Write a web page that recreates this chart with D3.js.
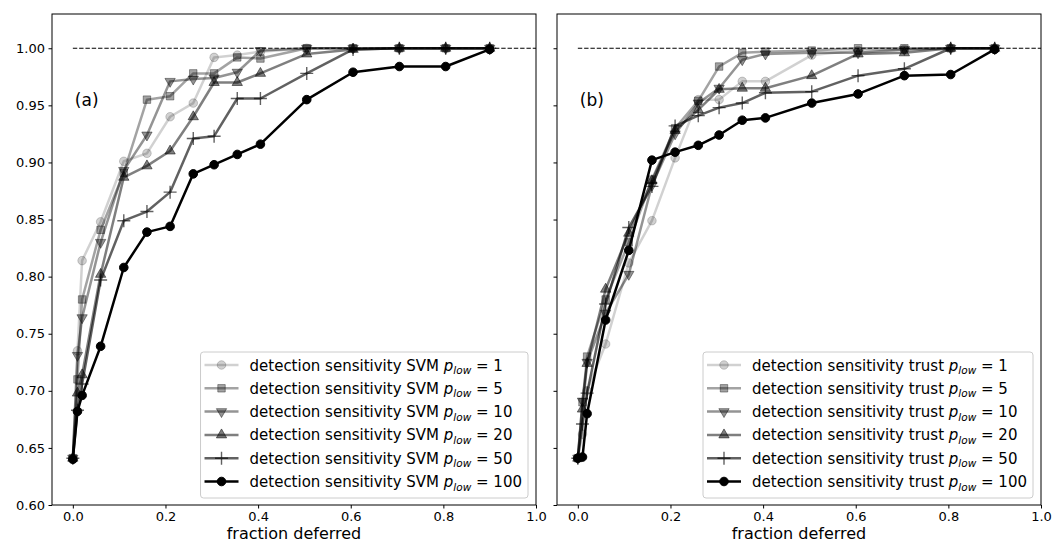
<!DOCTYPE html>
<html>
<head>
<meta charset="utf-8">
<script src="https://cdn.jsdelivr.net/npm/d3@7"></script>
<style>
  html, body { margin: 0; padding: 0; background: #fff; }
  svg { display: block; font-family: "DejaVu Sans", sans-serif; }
</style>
</head>
<body>
<svg id="chart" width="1063" height="543"></svg>
<script>
// Fraction of cases deferred (shared x positions for every curve)
const fractionDeferred = [0, 0.01, 0.02, 0.06, 0.11, 0.16, 0.21, 0.26, 0.305, 0.355, 0.405, 0.505, 0.605, 0.705, 0.805, 0.9];

// p_low settings, one curve each
const pLow = [1, 5, 10, 20, 50, 100];

// Detection sensitivity, SVM deferral
const svmP1   = [0.641, 0.735, 0.814, 0.848, 0.901, 0.908, 0.940, 0.952, 0.992, 0.994, 0.997, 1.000, 1.000, 1.000, 1.000, 1.000];
const svmP5   = [0.641, 0.710, 0.780, 0.841, 0.891, 0.955, 0.958, 0.978, 0.978, 0.992, 0.991, 1.000, 1.000, 1.000, 1.000, 1.000];
const svmP10  = [0.641, 0.731, 0.764, 0.830, 0.893, 0.924, 0.971, 0.973, 0.974, 0.979, 0.998, 1.000, 1.000, 1.000, 1.000, 1.000];
const svmP20  = [0.641, 0.698, 0.714, 0.802, 0.887, 0.897, 0.910, 0.940, 0.970, 0.970, 0.978, 0.995, 0.999, 1.000, 1.000, 1.000];
const svmP50  = [0.641, 0.683, 0.706, 0.797, 0.849, 0.857, 0.874, 0.921, 0.923, 0.956, 0.956, 0.978, 0.999, 1.000, 1.000, 1.000];
const svmP100 = [0.640, 0.682, 0.696, 0.739, 0.808, 0.839, 0.844, 0.890, 0.898, 0.907, 0.916, 0.955, 0.979, 0.984, 0.984, 0.999];

// Detection sensitivity, trust-score deferral
const trustP1   = [0.641, 0.662, 0.700, 0.741, 0.812, 0.849, 0.904, 0.955, 0.955, 0.971, 0.971, 0.994, 0.998, 0.999, 1.000, 1.000];
const trustP5   = [0.641, 0.690, 0.730, 0.780, 0.830, 0.885, 0.930, 0.954, 0.984, 0.996, 0.997, 0.998, 1.000, 1.000, 1.000, 1.000];
const trustP10  = [0.641, 0.691, 0.725, 0.768, 0.802, 0.880, 0.925, 0.952, 0.965, 0.990, 0.995, 0.996, 0.996, 0.999, 1.000, 1.000];
const trustP20  = [0.641, 0.684, 0.724, 0.789, 0.838, 0.884, 0.928, 0.946, 0.964, 0.965, 0.965, 0.976, 0.995, 0.996, 1.000, 1.000];
const trustP50  = [0.641, 0.671, 0.698, 0.776, 0.843, 0.879, 0.932, 0.941, 0.948, 0.952, 0.961, 0.962, 0.976, 0.982, 1.000, 1.000];
const trustP100 = [0.641, 0.642, 0.680, 0.762, 0.823, 0.902, 0.909, 0.915, 0.924, 0.937, 0.939, 0.952, 0.960, 0.976, 0.977, 0.999];

// Axis ticks
const xTicks = [0, 0.2, 0.4, 0.6, 0.8, 1.0];
const yTicks = [0.60, 0.65, 0.70, 0.75, 0.80, 0.85, 0.90, 0.95, 1.00];

// Per-curve look: marker shape and grey level (black with transparency)
const markerShapes = ["circle", "square", "triDown", "triUp", "plus", "circle"];
const curveAlpha = [0.18, 0.36, 0.42, 0.5, 0.62, 1.0];

const panels = [
  { tag: "(a)", method: "SVM",   series: [svmP1, svmP5, svmP10, svmP20, svmP50, svmP100],             left: 52,  right: 536, showYLabels: true },
  { tag: "(b)", method: "trust", series: [trustP1, trustP5, trustP10, trustP20, trustP50, trustP100], left: 557, right: 1041, showYLabels: false }
];

const svg = d3.select("#chart");
const plotTop = 14, plotBottom = 505;
const y = d3.scaleLinear().domain([0.6, 1.03]).range([plotBottom, plotTop]);

function markerPath(shape) {
  switch (shape) {
    case "circle":  return d3.symbol(d3.symbolCircle, 58)();
    case "square":  return d3.symbol(d3.symbolSquare, 56)();
    case "triUp":   return d3.symbol(d3.symbolTriangle, 46)();
    case "triDown": return d3.symbol(d3.symbolTriangle, 46)();
    case "plus":    return "M-6.5,0H6.5M0,-6.5V6.5";
  }
}

function drawMarker(g, shape, alpha, cx, cy) {
  const m = g.append("path")
    .attr("d", markerPath(shape))
    .attr("transform", `translate(${cx},${cy})` + (shape === "triDown" ? " rotate(180)" : ""));
  if (shape === "plus") {
    m.attr("fill", "none").attr("stroke", "#000").attr("stroke-width", 1.4).attr("stroke-opacity", alpha);
  } else {
    m.attr("fill", "#000").attr("fill-opacity", alpha)
     .attr("stroke", "#000").attr("stroke-opacity", alpha).attr("stroke-width", 1);
  }
}

panels.forEach(p => {
  const x = d3.scaleLinear().domain([-0.045, 1.0]).range([p.left, p.right]);
  const g = svg.append("g");

  // reference line at perfect sensitivity
  g.append("line")
    .attr("x1", x(0)).attr("x2", x(1.0))
    .attr("y1", y(1.0)).attr("y2", y(1.0))
    .attr("stroke", "#000").attr("stroke-width", 1.2)
    .attr("stroke-dasharray", "4.4,1.9");

  // curves
  const line = d3.line().x((d, i) => x(fractionDeferred[i])).y(d => y(d));
  p.series.forEach((vals, k) => {
    const cg = g.append("g");
    cg.append("path")
      .attr("d", line(vals))
      .attr("fill", "none")
      .attr("stroke", "#000")
      .attr("stroke-opacity", curveAlpha[k])
      .attr("stroke-width", 2.5)
      .attr("stroke-linejoin", "round");
    vals.forEach((v, i) => drawMarker(cg, markerShapes[k], curveAlpha[k], x(fractionDeferred[i]), y(v)));
  });

  // axes
  const xAxis = d3.axisBottom(x).tickValues(xTicks).tickFormat(d3.format(".1f")).tickSizeInner(3.5).tickSizeOuter(0).tickPadding(3.5);
  const yAxis = d3.axisLeft(y).tickValues(yTicks).tickFormat(p.showYLabels ? d3.format(".2f") : () => "").tickSizeInner(3.5).tickSizeOuter(0).tickPadding(3.5);

  const gx = g.append("g").attr("transform", `translate(0,${plotBottom})`).call(xAxis);
  const gy = g.append("g").attr("transform", `translate(${p.left},0)`).call(yAxis);
  [gx, gy].forEach(a => {
    a.select(".domain").remove();
    a.selectAll(".tick line").attr("stroke", "#000").attr("stroke-width", 1);
    a.selectAll(".tick text").attr("font-size", 13).attr("fill", "#000").attr("font-family", "DejaVu Sans");
  });

  // frame
  g.append("rect")
    .attr("x", p.left).attr("y", plotTop)
    .attr("width", p.right - p.left).attr("height", plotBottom - plotTop)
    .attr("fill", "none").attr("stroke", "#000").attr("stroke-width", 1);

  // axis label
  g.append("text")
    .attr("x", (p.left + p.right) / 2).attr("y", 539)
    .attr("text-anchor", "middle").attr("font-size", 16)
    .text("fraction deferred");

  // panel tag
  g.append("text")
    .attr("x", x(0) + 2).attr("y", 106)
    .attr("font-size", 17)
    .text(p.tag);

  // legend
  const lg = g.append("g");
  const box = lg.append("rect")
    .attr("fill", "#fff").attr("fill-opacity", 0.8)
    .attr("stroke", "#ccc").attr("stroke-width", 1)
    .attr("rx", 3).attr("ry", 3);
  const rowH = 23.3;
  const texts = [];
  pLow.forEach((pv, k) => {
    const ry = k * rowH;
    lg.append("line")
      .attr("x1", 4).attr("x2", 38).attr("y1", ry).attr("y2", ry)
      .attr("stroke", "#000").attr("stroke-opacity", curveAlpha[k]).attr("stroke-width", 2.5);
    drawMarker(lg, markerShapes[k], curveAlpha[k], 21, ry);
    const t = lg.append("text")
      .attr("x", 49).attr("y", ry + 5.5)
      .attr("font-size", 15);
    t.append("tspan").text(`detection sensitivity ${p.method} `);
    t.append("tspan").attr("font-style", "italic").text("p");
    t.append("tspan").attr("font-style", "italic").attr("font-size", 10.5).attr("dy", 3.5).text("low");
    t.append("tspan").attr("dy", -3.5).text(" = " + pv);
    texts.push(t);
  });
  const textW = d3.max(texts, t => t.node().getComputedTextLength());
  const w = 49 + textW + 6;
  const h = 146;
  box.attr("x", 0).attr("y", -13).attr("width", w).attr("height", h);
  lg.attr("transform", `translate(${p.right - 8 - w},${plotBottom - 7 - h + 13})`);
});
</script>
</body>
</html>
